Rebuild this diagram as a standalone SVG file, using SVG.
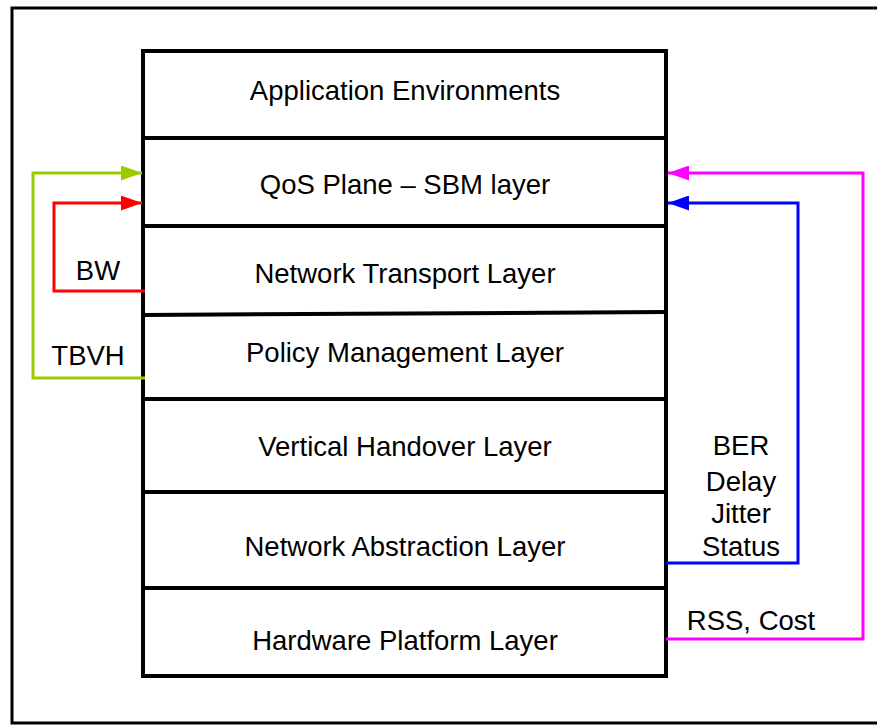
<svg xmlns="http://www.w3.org/2000/svg" width="877" height="725" viewBox="0 0 877 725">
<style>
text{font-family:"Liberation Sans",Arial,sans-serif;font-size:27.5px;fill:#000;text-anchor:middle}
.box{fill:#fff;stroke:#000;stroke-width:4}
.div{stroke:#000;stroke-width:4;fill:none}
.c{fill:none;stroke-width:3;stroke-linejoin:miter}
</style>
<defs>
<marker id="ag" markerWidth="7" markerHeight="5" refX="7" refY="2.5" orient="auto" markerUnits="strokeWidth"><path d="M0,0L7,2.5L0,5z" fill="#99CC00"/></marker>
<marker id="ar" markerWidth="7" markerHeight="5" refX="7" refY="2.5" orient="auto" markerUnits="strokeWidth"><path d="M0,0L7,2.5L0,5z" fill="#FF0000"/></marker>
<marker id="am" markerWidth="7" markerHeight="5" refX="7" refY="2.5" orient="auto" markerUnits="strokeWidth"><path d="M0,0L7,2.5L0,5z" fill="#FF00FF"/></marker>
<marker id="ab" markerWidth="7" markerHeight="5" refX="7" refY="2.5" orient="auto" markerUnits="strokeWidth"><path d="M0,0L7,2.5L0,5z" fill="#0000FF"/></marker>
</defs>
<rect x="0" y="0" width="877" height="725" fill="#fff"/>
<rect x="12" y="8" width="880" height="715" fill="none" stroke="#000" stroke-width="3"/>
<g id="stack">
<rect class="box" x="143" y="51" width="523" height="625"/>
</g>
<g id="layer-app"><text x="405" y="100">Application Environments</text></g>
<g id="layer-qos"><line class="div" x1="143" y1="138" x2="666" y2="138"/><text x="405" y="194">QoS Plane – SBM layer</text></g>
<g id="layer-transport"><line class="div" x1="143" y1="226" x2="666" y2="226"/><text x="405" y="283">Network Transport Layer</text></g>
<g id="layer-policy"><line class="div" x1="143" y1="315" x2="666" y2="312"/><text x="405" y="362">Policy Management Layer</text></g>
<g id="layer-vho"><line class="div" x1="143" y1="399" x2="666" y2="399"/><text x="405" y="456">Vertical Handover Layer</text></g>
<g id="layer-nal"><line class="div" x1="143" y1="492" x2="666" y2="492"/><text x="405" y="556">Network Abstraction Layer</text></g>
<g id="layer-hw"><line class="div" x1="143" y1="588" x2="666" y2="588"/><text x="405" y="650">Hardware Platform Layer</text></g>
<g id="connectors">
<polyline class="c" stroke="#99CC00" points="145,378 33,378 33,173 142,173" marker-end="url(#ag)"/>
<polyline class="c" stroke="#FF0000" points="145,291 54,291 54,203 142,203" marker-end="url(#ar)"/>
<polyline class="c" stroke="#FF00FF" points="666,639 863,639 863,173 668,173" marker-end="url(#am)"/>
<polyline class="c" stroke="#0000FF" points="666,563 798,563 798,203 668,203" marker-end="url(#ab)"/>
<text x="98" y="280">BW</text>
<text x="88" y="365">TBVH</text>
<text x="741" y="455">BER</text>
<text x="741" y="491">Delay</text>
<text x="741" y="523">Jitter</text>
<text x="741" y="556">Status</text>
<text x="751" y="630">RSS, Cost</text>
</g>
</svg>
